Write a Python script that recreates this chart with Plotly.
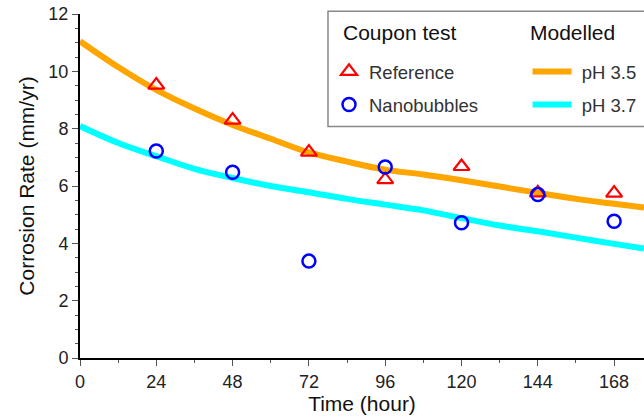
import plotly.graph_objects as go

# Coupon test data
time_pts = [24, 48, 72, 96, 120, 144, 168]
reference = [9.52, 8.30, 7.18, 6.22, 6.68, 5.76, 5.75]
nanobubbles = [7.22, 6.48, 3.38, 6.66, 4.72, 5.70, 4.77]

# Modelled curves
time_model = [0, 12, 24, 36, 48, 60, 72, 84, 96, 108, 120, 132, 144, 156, 168, 177.4]
ph35 = [11.05, 10.15, 9.35, 8.70, 8.13, 7.65, 7.17, 6.85, 6.57, 6.40, 6.20, 5.98, 5.76, 5.55, 5.38, 5.25]
ph37 = [8.09, 7.50, 7.04, 6.60, 6.28, 6.00, 5.78, 5.55, 5.35, 5.15, 4.88, 4.62, 4.42, 4.20, 3.98, 3.82]

x_ticks = [0, 24, 48, 72, 96, 120, 144, 168]
y_ticks = [0, 2, 4, 6, 8, 10, 12]

FONT = "Arial, Liberation Sans, Helvetica, sans-serif"
NBSP = "\u00a0"

fig = go.Figure()
fig.add_trace(go.Scatter(x=time_model, y=ph35, mode="lines", name=NBSP + "pH 3.5",
                         line=dict(color="#FFA500", width=6, shape="spline"),
                         legend="legend2", legendgroup="a"))
fig.add_trace(go.Scatter(x=time_model, y=ph37, mode="lines", name=NBSP + "pH 3.7",
                         line=dict(color="#00FFFF", width=6, shape="spline"),
                         legend="legend2", legendgroup="b"))
fig.add_trace(go.Scatter(x=time_pts, y=reference, mode="markers", name="Reference",
                         marker=dict(symbol="triangle-up-open", size=14, color="#FF0000",
                                     line=dict(width=2.2, color="#FF0000")),
                         legendgroup="c"))
fig.add_trace(go.Scatter(x=time_pts, y=nanobubbles, mode="markers", name="Nanobubbles",
                         marker=dict(symbol="circle-open", size=13, color="#0000FF",
                                     line=dict(width=2.5, color="#0000FF")),
                         legendgroup="d"))

fig.add_shape(type="rect", xref="paper", yref="paper", x0=0.4397, x1=1.2, y0=0.673, y1=1.008,
              line=dict(color="#888888", width=1.5), fillcolor="white", layer="above")

title_font = dict(family=FONT, size=21, color="#111111")
fig.add_annotation(text="Coupon test", xref="paper", yref="paper", x=0.4625, y=0.9448,
                   xanchor="left", yanchor="middle", showarrow=False, font=title_font)
fig.add_annotation(text="Modelled", xref="paper", yref="paper", x=0.7935, y=0.9448,
                   xanchor="left", yanchor="middle", showarrow=False, font=title_font)

fig.update_layout(
    width=644, height=417,
    margin=dict(l=80, r=0, t=14, b=59),
    paper_bgcolor="white", plot_bgcolor="white",
    font=dict(family=FONT, size=18, color="#222222"),
    showlegend=True,
    legend=dict(x=0.4415, y=0.887, xanchor="left", yanchor="top",
                font=dict(size=18.5, color="#333333"),
                bgcolor="rgba(0,0,0,0)", borderwidth=0,
                traceorder="grouped", tracegroupgap=6, itemwidth=30),
    legend2=dict(x=0.7935, y=0.887, xanchor="left", yanchor="top",
                 font=dict(size=18.5, color="#333333"),
                 bgcolor="rgba(0,0,0,0)", borderwidth=0,
                 traceorder="grouped", tracegroupgap=6, itemwidth=39),
    xaxis=dict(range=[0, 177.4], tickmode="array", tickvals=x_ticks,
               ticktext=[str(v) for v in x_ticks],
               showline=True, linecolor="black", linewidth=2, mirror=False,
               ticks="outside", ticklen=6, tickwidth=1, tickcolor="#555555",
               minor=dict(dtick=12, ticks="outside", ticklen=3, tickcolor="#555555", tickwidth=1),
               showgrid=False, zeroline=False,
               title=dict(text="Time (hour)", font=title_font, standoff=4)),
    yaxis=dict(range=[0, 12], tickmode="array", tickvals=y_ticks,
               showline=True, linecolor="black", linewidth=2,
               ticks="outside", ticklen=6, tickwidth=1, tickcolor="#555555",
               minor=dict(dtick=0.5, ticks="outside", ticklen=3, tickcolor="#555555", tickwidth=1),
               showgrid=False, zeroline=False,
               title=dict(text="Corrosion Rate (mm/yr)", font=title_font, standoff=8)),
)

fig.write_html("out.html")
